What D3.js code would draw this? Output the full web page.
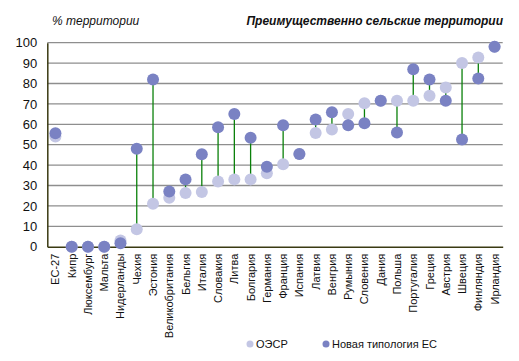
<!DOCTYPE html>
<html>
<head>
<meta charset="utf-8">
<script src="https://cdn.jsdelivr.net/npm/d3@7"></script>
<style>
  body { margin: 0; background: #fff; }
  svg text { font-family: "Liberation Sans", Arial, sans-serif; }
</style>
</head>
<body>
<div id="chart"></div>
<script>
// страны, по порядку на оси
var countries = ["ЕС-27", "Кипр", "Люксембург", "Мальта", "Нидерланды", "Чехия", "Эстония",
    "Великобритания", "Бельгия", "Италия", "Словакия", "Литва", "Болгария", "Германия",
    "Франция", "Испания", "Латвия", "Венгрия", "Румыния", "Словения", "Дания", "Польша",
    "Португалия", "Греция", "Австрия", "Швеция", "Финляндия", "Ирландия"];
// ОЭСР (светлые точки)
var oecd = [54, 0, 0, 0, 3, 8.5, 21, 24, 26.3, 26.8, 32, 33, 33, 36,
    40.4, 45.4, 55.7, 57.4, 65, 70.3, 71.6, 71.6, 71.6, 74, 78, 90, 92.8, 98];
// новая типология ЕС (тёмные точки)
var newTyp = [55.6, 0, 0, 0, 1.7, 48, 82, 27.1, 33, 45.3, 58.5, 65, 53.4, 39.2,
    59.5, 45.4, 62.4, 65.9, 59.5, 60.5, 71.6, 56, 87, 82, 71.6, 52.6, 82.4, 98];
var yTicks = [0, 10, 20, 30, 40, 50, 60, 70, 80, 90, 100];

var width = 519, height = 361;
var margin = {left: 47.3, right: 16.3, top: 42.7, bottom: 114.3};

var lightCol = "#c3c6e4", darkCol = "#7a82c3", lineCol = "#0a800a";

var svg = d3.select("#chart").append("svg")
    .attr("width", width)
    .attr("height", height);

var x = d3.scaleBand()
    .domain(countries)
    .range([margin.left, width - margin.right]);
var y = d3.scaleLinear()
    .domain([0, 100])
    .range([height - margin.bottom, margin.top]);

// сетка
svg.append("g").selectAll("line")
    .data(yTicks.slice(1))
    .enter().append("line")
    .attr("x1", margin.left)
    .attr("x2", width - margin.right)
    .attr("y1", d => y(d))
    .attr("y2", d => y(d))
    .attr("stroke", "#8e8e8e")
    .attr("stroke-width", 1.3);

// ось Y
var yAxis = svg.append("g")
    .attr("transform", "translate(" + margin.left + ",0)")
    .call(d3.axisLeft(y).tickValues(yTicks).tickSize(0).tickPadding(10));
yAxis.select(".domain").attr("stroke", "#3a3a12").attr("stroke-width", 1.5);
yAxis.selectAll("text").style("font-size", "13px").attr("fill", "#111");

// ось X
var xAxis = svg.append("g")
    .attr("transform", "translate(0," + y(0) + ")")
    .call(d3.axisBottom(x).tickSize(0).tickPadding(0));
xAxis.select(".domain").attr("stroke", "#3a3a12").attr("stroke-width", 1.5);
xAxis.selectAll("text")
    .style("font-size", "11px")
    .attr("fill", "#111")
    .attr("text-anchor", "end")
    .attr("transform", "translate(4,7) rotate(-90)")
    .attr("dy", 0)
    .attr("x", 0)
    .attr("y", 0);

// соединительные линии
svg.append("g").selectAll("line")
    .data(countries)
    .enter().append("line")
    .attr("x1", d => x(d) + x.bandwidth() / 2)
    .attr("x2", d => x(d) + x.bandwidth() / 2)
    .attr("y1", (d, i) => y(oecd[i]))
    .attr("y2", (d, i) => y(newTyp[i]))
    .attr("stroke", lineCol)
    .attr("stroke-width", 1.3);

// точки ОЭСР
svg.append("g").selectAll("circle")
    .data(countries)
    .enter().append("circle")
    .attr("cx", d => x(d) + x.bandwidth() / 2)
    .attr("cy", (d, i) => y(oecd[i]))
    .attr("r", 6)
    .attr("fill", lightCol);

// точки новой типологии
svg.append("g").selectAll("circle")
    .data(countries)
    .enter().append("circle")
    .attr("cx", d => x(d) + x.bandwidth() / 2)
    .attr("cy", (d, i) => y(newTyp[i]))
    .attr("r", 6)
    .attr("fill", darkCol);

// подписи
svg.append("text")
    .attr("x", 52).attr("y", 25)
    .style("font-size", "12px")
    .style("font-style", "italic")
    .attr("fill", "#111")
    .text("% территории");
svg.append("text")
    .attr("x", 503).attr("y", 25)
    .attr("text-anchor", "end")
    .style("font-size", "12px")
    .style("font-style", "italic")
    .style("font-weight", "bold")
    .attr("fill", "#111")
    .text("Преимущественно сельские территории");

// легенда
var legendItems = [
    {name: "ОЭСР", color: lightCol, x: 250},
    {name: "Новая типология ЕС", color: darkCol, x: 326}
];
var legend = svg.append("g").selectAll("g")
    .data(legendItems)
    .enter().append("g");
legend.append("circle")
    .attr("cx", d => d.x)
    .attr("cy", 344)
    .attr("r", 3.5)
    .attr("fill", d => d.color);
legend.append("text")
    .attr("x", d => d.x + 6)
    .attr("y", 348)
    .style("font-size", "11px")
    .attr("fill", "#111")
    .text(d => d.name);
</script>
</body>
</html>
